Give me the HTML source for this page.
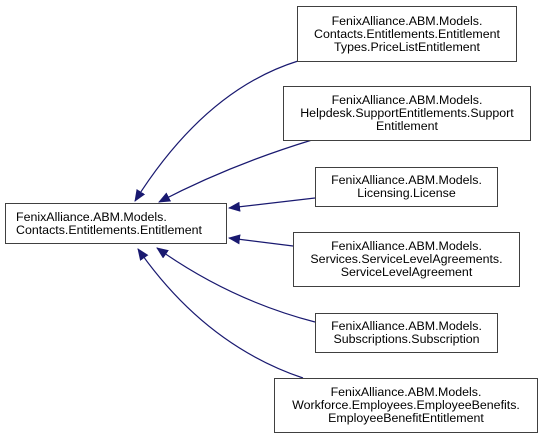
<!DOCTYPE html>
<html><head><style>
body{margin:0;background:#fff;width:544px;height:440px;overflow:hidden;position:relative;font-family:"Liberation Sans",Arial,sans-serif;}
.b{position:absolute;box-sizing:border-box;border:1px solid #404040;background:#fff;font-size:12.4px;line-height:13px;text-align:center;color:#000;display:flex;flex-direction:column;justify-content:center;white-space:nowrap;}
svg{position:absolute;left:0;top:0}
</style></head><body>
<svg width="544" height="440">
<defs><marker id="a" markerWidth="12" markerHeight="10" refX="11" refY="5" orient="auto" markerUnits="userSpaceOnUse"><path d="M0,0 L12,5 L0,10 z" fill="#191970"/></marker></defs>
<g fill="none" stroke="#191970" stroke-width="1.2" marker-end="url(#a)">
<path d="M298,61 Q205,90 135,201"/>
<path d="M312,140 Q230,165 159,202"/>
<path d="M315,198 L229,208"/>
<path d="M293,246 L229,238"/>
<path d="M315,322 Q230,300 157,248"/>
<path d="M303,378 Q205,345 138,249"/>
</g>
</svg>
<div class="b" style="left:5px;top:203px;width:222px;height:41px;text-align:left;padding-left:10px">FenixAlliance.ABM.Models.<br>Contacts.Entitlements.Entitlement</div>
<div class="b" style="left:297px;top:6px;width:220px;height:56px">FenixAlliance.ABM.Models.<br>Contacts.Entitlements.Entitlement<br>Types.PriceListEntitlement</div>
<div class="b" style="left:283px;top:86px;width:248px;height:55px">FenixAlliance.ABM.Models.<br>Helpdesk.SupportEntitlements.Support<br>Entitlement</div>
<div class="b" style="left:315px;top:167px;width:183px;height:40px">FenixAlliance.ABM.Models.<br>Licensing.License</div>
<div class="b" style="left:293px;top:232px;width:227px;height:55px">FenixAlliance.ABM.Models.<br>Services.ServiceLevelAgreements.<br>ServiceLevelAgreement</div>
<div class="b" style="left:315px;top:313px;width:183px;height:40px">FenixAlliance.ABM.Models.<br>Subscriptions.Subscription</div>
<div class="b" style="left:274px;top:378px;width:264px;height:55px">FenixAlliance.ABM.Models.<br>Workforce.Employees.EmployeeBenefits.<br>EmployeeBenefitEntitlement</div>
</body></html>
